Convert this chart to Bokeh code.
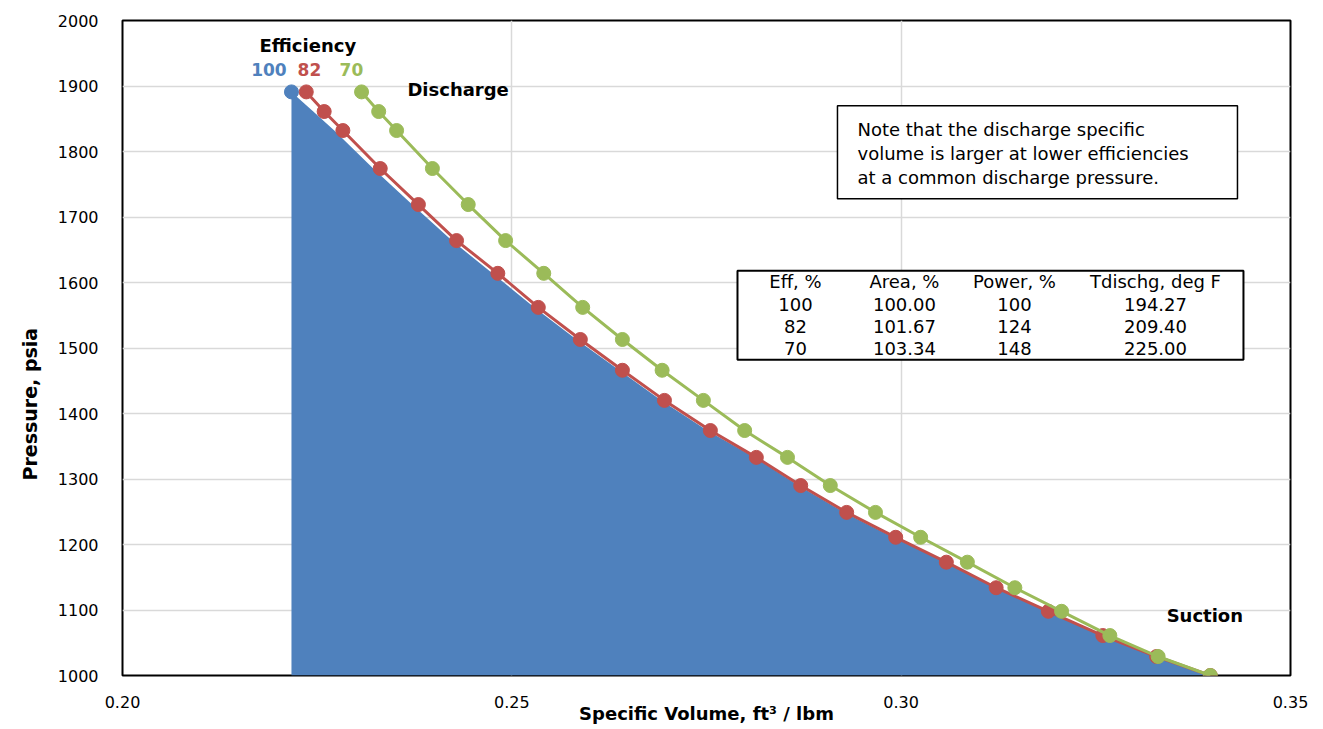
from bokeh.plotting import figure
from bokeh.models import Range1d, FixedTicker, PrintfTickFormatter, Label, BoxAnnotation, Title
from bokeh.embed import file_html
from bokeh.resources import INLINE

# ---- data ----
pressure = [1891, 1861, 1832, 1774, 1719, 1664, 1614, 1562, 1513, 1466, 1420,
            1374, 1333, 1290, 1249, 1211, 1173, 1134, 1098, 1061, 1029, 1000]
vol_100 = [0.2217, 0.2245, 0.2272, 0.2322, 0.2372, 0.2423, 0.2475, 0.2529, 0.2583,
           0.2638, 0.2692, 0.2751, 0.2812, 0.2868, 0.2927, 0.2990, 0.3057, 0.3121,
           0.3188, 0.3257, 0.3328, 0.3397]
vol_82 = [0.2236, 0.2259, 0.2283, 0.2331, 0.2380, 0.2429, 0.2482, 0.2534, 0.2588,
          0.2642, 0.2696, 0.2755, 0.2814, 0.2871, 0.2930, 0.2993, 0.3058, 0.3122,
          0.3189, 0.3259, 0.3328, 0.3397]
vol_70 = [0.2307, 0.2329, 0.2352, 0.2398, 0.2444, 0.2492, 0.2541, 0.2591, 0.2642,
          0.2693, 0.2746, 0.2799, 0.2854, 0.2909, 0.2967, 0.3025, 0.3085, 0.3146,
          0.3206, 0.3268, 0.3330, 0.3397]

eff_labels = ["100", "82", "70"]
area_pct = ["100.00", "101.67", "103.34"]
power_pct = ["100", "124", "148"]
tdischg = ["194.27", "209.40", "225.00"]
table_header = ["Eff, %", "Area, %", "Power, %", "Tdischg, deg F"]

note_lines = ["Note that the discharge specific",
              "volume is larger at lower efficiencies",
              "at a common discharge pressure."]

x_ticks = [0.20, 0.25, 0.30, 0.35]
y_ticks = [1000, 1100, 1200, 1300, 1400, 1500, 1600, 1700, 1800, 1900, 2000]

BLUE = "#4F81BD"
RED = "#C0504D"
GREEN = "#9BBB59"
FONT = "DejaVu Sans"

p = figure(width=1315, height=726, output_backend="svg", toolbar_location=None,
           x_range=Range1d(0.20, 0.35), y_range=Range1d(1000, 2000),
           min_border_left=122, min_border_right=25, min_border_top=20,
           min_border_bottom=51, background_fill_color="white")

p.outline_line_color = "black"
p.outline_line_width = 2

p.xaxis.ticker = FixedTicker(ticks=x_ticks)
p.yaxis.ticker = FixedTicker(ticks=y_ticks)
p.xaxis.formatter = PrintfTickFormatter(format="%.2f")
for ax in (p.xaxis, p.yaxis):
    ax.axis_line_color = None
    ax.major_tick_line_color = None
    ax.minor_tick_line_color = None
    ax.major_label_text_font = FONT
    ax.major_label_text_font_size = "16px"
    ax.major_label_text_color = "black"
    ax.axis_label_text_font = FONT
    ax.axis_label_text_font_size = "18px"
    ax.axis_label_text_font_style = "bold"
    ax.axis_label_text_color = "black"

p.xaxis.major_label_standoff = 14
p.yaxis.major_label_standoff = 18
p.xaxis.axis_label = "Specific Volume, ft\u00b3 / lbm"
p.xaxis.axis_label_standoff = -8

# y-axis title as a side title so it can sit lower than the frame centre
p.add_layout(Title(text="Pressure, psia", align="left", offset=195, standoff=28,
                   text_font=FONT, text_font_size="19px", text_font_style="bold",
                   text_color="black"), "left")

p.xgrid.ticker = FixedTicker(ticks=x_ticks)
p.ygrid.ticker = FixedTicker(ticks=y_ticks)
p.grid.grid_line_color = "#D9D9D9"
p.grid.grid_line_width = 1.5

# blue area (100 % efficiency)
p.harea(y=pressure, x1=vol_100[0], x2=vol_100, fill_color=BLUE, fill_alpha=1)
p.scatter(x=vol_100[:1], y=pressure[:1], size=14, color=BLUE)

# 82 %
p.line(x=vol_82, y=pressure, line_color=RED, line_width=3)
p.scatter(x=vol_82, y=pressure, size=14, color=RED)

# 70 %
p.line(x=vol_70, y=pressure, line_color=GREEN, line_width=3)
p.scatter(x=vol_70, y=pressure, size=14, color=GREEN)


def lab(x, y, text, size, color="black", bold=False, align="center"):
    p.add_layout(Label(x=x, y=y, text=text, text_font=FONT, text_font_size=size,
                       text_color=color, text_font_style="bold" if bold else "normal",
                       text_align=align, text_baseline="middle"))


lab(0.2238, 1962, "Efficiency", "18px", bold=True)
for xx, t, c in zip([0.2188, 0.2240, 0.2294], eff_labels, [BLUE, RED, GREEN]):
    lab(xx, 1925, t, "17px", color=c, bold=True)
lab(0.2431, 1894, "Discharge", "18px", bold=True)
lab(0.3390, 1092, "Suction", "18px", bold=True)

# note box
p.add_layout(BoxAnnotation(left=0.29182, right=0.34319, top=1870, bottom=1728,
                           fill_color="white", fill_alpha=1, line_color="black",
                           line_width=1.5, line_alpha=1))
for yy, t in zip([1834, 1797, 1760], note_lines):
    lab(0.29439, yy, t, "18px", align="left")

# table box
p.add_layout(BoxAnnotation(left=0.27898, right=0.34396, top=1618, bottom=1482,
                           fill_color="white", fill_alpha=1, line_color="black",
                           line_width=2, line_alpha=1))
col_x = [0.28643, 0.30042, 0.31455, 0.33266]
row_y = [1601, 1567, 1533, 1499]
for cx, h in zip(col_x, table_header):
    lab(cx, row_y[0], h, "18px")
for i in range(3):
    for cx, t in zip(col_x, [eff_labels[i], area_pct[i], power_pct[i], tdischg[i]]):
        lab(cx, row_y[i + 1], t, "18px")

open("out.html", "w").write(file_html(p, INLINE))
